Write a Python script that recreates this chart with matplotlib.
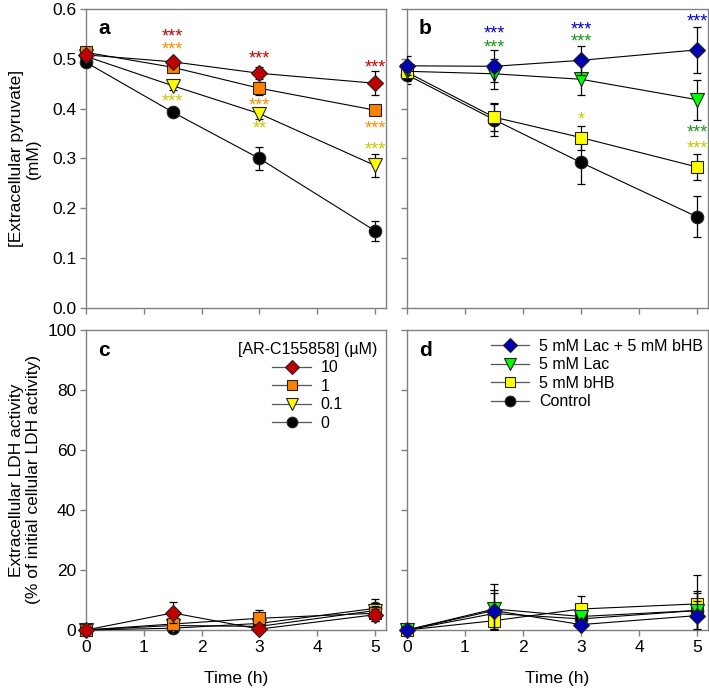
import matplotlib
matplotlib.use("Agg")
import matplotlib.pyplot as plt
from matplotlib.lines import Line2D
import numpy as np

plt.rcParams['font.family'] = ['Liberation Sans', 'DejaVu Sans']

time = [0, 1.5, 3, 5]

# Panel a: extracellular pyruvate (mM), AR-C155858 concentrations
a_labels = ['10', '1', '0.1', '0']
a_mean = {
    '10':  [0.508, 0.494, 0.471, 0.451],
    '1':   [0.513, 0.483, 0.441, 0.397],
    '0.1': [0.505, 0.446, 0.390, 0.286],
    '0':   [0.493, 0.393, 0.300, 0.155],
}
a_err = {
    '10':  [0.006, 0.008, 0.012, 0.024],
    '1':   [0.006, 0.008, 0.013, 0.008],
    '0.1': [0.006, 0.008, 0.010, 0.024],
    '0':   [0.010, 0.008, 0.024, 0.020],
}

# Panel b: extracellular pyruvate (mM), substrates
b_labels = ['5 mM Lac + 5 mM bHB', '5 mM Lac', '5 mM bHB', 'Control']
b_mean = {
    '5 mM Lac + 5 mM bHB': [0.486, 0.485, 0.497, 0.518],
    '5 mM Lac':            [0.475, 0.470, 0.459, 0.418],
    '5 mM bHB':            [0.473, 0.383, 0.342, 0.283],
    'Control':             [0.468, 0.378, 0.292, 0.183],
}
b_err = {
    '5 mM Lac + 5 mM bHB': [0.019, 0.032, 0.029, 0.046],
    '5 mM Lac':            [0.018, 0.030, 0.031, 0.040],
    '5 mM bHB':            [0.018, 0.027, 0.024, 0.026],
    'Control':             [0.018, 0.033, 0.044, 0.041],
}

# Panel c: extracellular LDH activity (%)
c_mean = {
    '10':  [0.0, 5.7, 0.3, 5.1],
    '1':   [0.0, 2.0, 3.9, 5.6],
    '0.1': [0.0, 1.5, 1.2, 6.5],
    '0':   [0.0, 0.6, 2.2, 7.2],
}
c_err = {
    '10':  [0.3, 3.5, 0.5, 2.0],
    '1':   [0.3, 1.5, 2.9, 2.5],
    '0.1': [0.3, 1.0, 1.0, 2.5],
    '0':   [0.3, 0.5, 1.0, 3.0],
}

# Panel d: extracellular LDH activity (%)
d_mean = {
    '5 mM Lac + 5 mM bHB': [0.0, 6.5, 1.8, 4.8],
    '5 mM Lac':            [0.0, 7.0, 4.5, 6.5],
    '5 mM bHB':            [0.0, 3.1, 7.0, 8.7],
    'Control':             [0.0, 5.5, 3.7, 6.5],
}
d_err = {
    '5 mM Lac + 5 mM bHB': [0.3, 6.0, 1.0, 5.0],
    '5 mM Lac':            [0.3, 6.5, 2.0, 6.0],
    '5 mM bHB':            [0.3, 3.0, 4.2, 9.7],
    'Control':             [0.3, 9.8, 3.0, 6.5],
}

# significance annotations (x, y, text, series)
a_stars = [
    (1.5, 0.551, '***', '10'), (1.5, 0.524, '***', '1'), (1.5, 0.420, '***', '0.1'),
    (3, 0.507, '***', '10'), (3, 0.412, '***', '1'), (3, 0.366, '**', '0.1'),
    (5, 0.489, '***', '10'), (5, 0.367, '***', '1'), (5, 0.325, '***', '0.1'),
]
b_stars = [
    (1.5, 0.556, '***', '5 mM Lac + 5 mM bHB'), (1.5, 0.529, '***', '5 mM Lac'),
    (3, 0.565, '***', '5 mM Lac + 5 mM bHB'), (3, 0.541, '***', '5 mM Lac'), (3, 0.385, '*', '5 mM bHB'),
    (5, 0.581, '***', '5 mM Lac + 5 mM bHB'), (5, 0.358, '***', '5 mM Lac'), (5, 0.327, '***', '5 mM bHB'),
]

a_style = {
    '10':  dict(marker='D', color='#c00000', ms=8.5, zorder=6),
    '1':   dict(marker='s', color='#ff8000', ms=8, zorder=5),
    '0.1': dict(marker='v', color='#ffff00', ms=9.5, zorder=4),
    '0':   dict(marker='o', color='#000000', ms=9, zorder=3),
}
a_star_col = {'10': '#cc0000', '1': '#ff8c00', '0.1': '#c8c800'}
b_style = {
    '5 mM Lac + 5 mM bHB': dict(marker='D', color='#0000b0', ms=8.5, zorder=6),
    '5 mM Lac':            dict(marker='v', color='#00ff00', ms=9.5, zorder=5),
    '5 mM bHB':            dict(marker='s', color='#ffff00', ms=8, zorder=4),
    'Control':             dict(marker='o', color='#000000', ms=9, zorder=3),
}
b_star_col = {'5 mM Lac + 5 mM bHB': '#0000cc', '5 mM Lac': '#1a961a', '5 mM bHB': '#c8c800'}

W, H = 709, 693
fig = plt.figure(figsize=(W / 100, H / 100), dpi=100)

def add_ax(l, r, t, b):
    return fig.add_axes([l / W, 1 - b / H, (r - l) / W, (b - t) / H])

ax_a = add_ax(86, 386, 9, 308)
ax_b = add_ax(407, 708, 9, 308)
ax_c = add_ax(86, 386, 330, 630)
ax_d = add_ax(407, 708, 330, 630)

FS = 12.5
LFS = 11.5
SFS = 13
spine_col = '#808080'

def plot_series(ax, labels, means, errs, styles):
    for lab in labels:
        st = styles[lab]
        ax.errorbar(time, means[lab], yerr=errs[lab], fmt='none', ecolor='black',
                    elinewidth=0.9, capsize=3, capthick=0.9, zorder=st['zorder'] - 0.5)
        ax.plot(time, means[lab], color='black', lw=0.8, marker=st['marker'],
                ms=st['ms'], mfc=st['color'], mec='#222222', mew=0.8,
                zorder=st['zorder'], label=lab, clip_on=False)

def legend_handles(labels, styles):
    hs = []
    for lab in labels:
        st = styles[lab]
        hs.append(Line2D([], [], color='#555555', lw=0.9, marker=st['marker'],
                         ms=st['ms'] * 0.85, mfc=st['color'], mec='#222222', mew=0.8))
    return hs

def style_ax(ax, ylim, yticks, yfmt, show_ylabels, show_xlabels):
    ax.set_xlim(0, 5.19)
    ax.set_ylim(*ylim)
    ax.set_xticks([0, 1, 2, 3, 4, 5])
    ax.set_yticks(yticks)
    for s in ax.spines.values():
        s.set_color(spine_col)
        s.set_linewidth(1.0)
    ax.tick_params(direction='out', length=4, width=1.0, color=spine_col,
                   labelsize=FS, pad=3)
    if show_ylabels:
        ax.set_yticklabels([yfmt.format(v) for v in yticks])
    else:
        ax.set_yticklabels([])
    if show_xlabels:
        ax.set_xticklabels([str(v) for v in [0, 1, 2, 3, 4, 5]])
        ax.set_xlabel('Time (h)', fontsize=FS, labelpad=12)
    else:
        ax.set_xticklabels([])

plot_series(ax_a, a_labels, a_mean, a_err, a_style)
plot_series(ax_b, b_labels, b_mean, b_err, b_style)
plot_series(ax_c, a_labels, c_mean, c_err, a_style)
plot_series(ax_d, b_labels, d_mean, d_err, b_style)

pyr_ticks = [0.0, 0.1, 0.2, 0.3, 0.4, 0.5, 0.6]
ldh_ticks = [0, 20, 40, 60, 80, 100]
style_ax(ax_a, (0, 0.6), pyr_ticks, '{:.1f}', True, False)
style_ax(ax_b, (0, 0.6), pyr_ticks, '{:.1f}', False, False)
style_ax(ax_c, (0, 100), ldh_ticks, '{:d}', True, True)
style_ax(ax_d, (0, 100), ldh_ticks, '{:d}', False, True)

# asterisk ink sits above the baseline: offset so the ink is centred on y
star_off = -0.44 * SFS
for x, y, t, s in a_stars:
    ax_a.annotate(t, (x, y), xytext=(0, star_off), textcoords='offset points',
                  color=a_star_col[s], fontsize=SFS, ha='center', va='baseline', zorder=8)
for x, y, t, s in b_stars:
    ax_b.annotate(t, (x, y), xytext=(0, star_off), textcoords='offset points',
                  color=b_star_col[s], fontsize=SFS, ha='center', va='baseline', zorder=8,
                  annotation_clip=False)

for ax, letter in zip([ax_a, ax_b, ax_c, ax_d], ['a', 'b', 'c', 'd']):
    ax.text(0.04, 0.965, letter, transform=ax.transAxes, fontsize=15, fontweight='bold',
            ha='left', va='top')

ax_a.set_ylabel('[Extracellular pyruvate]\n(mM)', fontsize=FS)
ax_c.set_ylabel('Extracellular LDH activity\n(% of initial cellular LDH activity)', fontsize=FS)
ax_a.yaxis.set_label_coords(-0.15, 0.5)
ax_c.yaxis.set_label_coords(-0.15, 0.5)

ax_c.legend(handles=legend_handles(a_labels, a_style), labels=a_labels,
            title='[AR-C155858] (µM)', frameon=False,
            fontsize=LFS, title_fontsize=LFS, loc='upper right',
            bbox_to_anchor=(1.0, 0.99), handlelength=2.4, handletextpad=0.6,
            labelspacing=0.22, borderaxespad=0.25, borderpad=0.3)
ax_d.legend(handles=legend_handles(b_labels, b_style), labels=b_labels, frameon=False,
            fontsize=LFS, loc='upper right', bbox_to_anchor=(1.012, 1.0), handlelength=2.4,
            handletextpad=0.6, labelspacing=0.22, borderaxespad=0.25, borderpad=0.3)

fig.savefig('out.png', dpi=100)
